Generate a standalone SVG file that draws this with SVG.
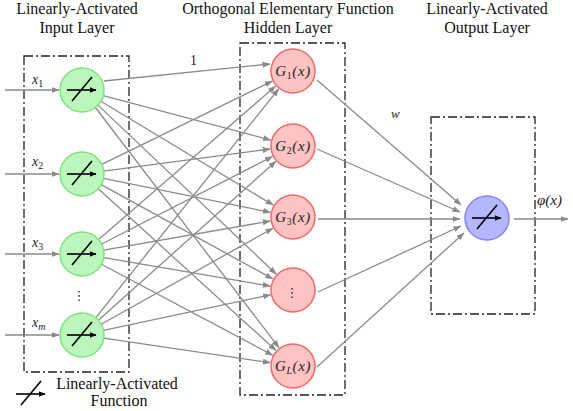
<svg xmlns="http://www.w3.org/2000/svg" xmlns:xlink="http://www.w3.org/1999/xlink" width="573" height="411" viewBox="0 0 573 411">
<style>
.t{font-family:"Liberation Serif","Times New Roman",serif;font-size:16px;fill:#111;text-anchor:middle}
.m{font-family:"Liberation Serif","Times New Roman",serif;font-style:italic;font-size:14px;fill:#222}
.g{font-size:15px;letter-spacing:0.6px}
.s{font-size:10px;font-style:normal}
.si{font-size:10px;font-style:italic}
.box{fill:none;stroke:#222;stroke-width:1.3;stroke-dasharray:9,3,2,3}
.c{stroke:#8a8a8a;stroke-width:1.3;fill:none;marker-end:url(#ah)}
.in{fill:#bdf6bd;stroke:#7fe37f;stroke-width:1.5}
.hd{fill:#ffc3c3;stroke:#f06a6a;stroke-width:1.5}
.out{fill:#b6b6ff;stroke:#8585ee;stroke-width:1.5}
.act{stroke:#000;stroke-width:1.6;fill:none}
.dots{font-family:"DejaVu Sans",sans-serif;font-size:13px;fill:#222;text-anchor:middle}
</style>
<defs>
<marker id="ah" markerWidth="8" markerHeight="6" refX="7.5" refY="3" orient="auto" markerUnits="userSpaceOnUse">
<path d="M0,0 L8,3 L0,6 Z" fill="#8a8a8a"/>
</marker>
<marker id="bh" markerWidth="7" markerHeight="6" refX="6.5" refY="3" orient="auto" markerUnits="userSpaceOnUse">
<path d="M0,0 L7,3 L0,6 Z" fill="#000"/>
</marker>
<g id="act">
<line class="act" x1="-15" y1="0" x2="14" y2="0" marker-end="url(#bh)"/>
<line class="act" x1="-10" y1="11" x2="10" y2="-13"/>
</g>
</defs>

<g id="titles">
<text class="t" x="77" y="14">Linearly-Activated</text>
<text class="t" x="77" y="33">Input Layer</text>
<text class="t" x="288" y="14">Orthogonal Elementary Function</text>
<text class="t" x="288" y="33">Hidden Layer</text>
<text class="t" x="487" y="14">Linearly-Activated</text>
<text class="t" x="487" y="33">Output Layer</text>
</g>

<g id="boxes">
<rect class="box" x="24" y="56" width="105" height="316"/>
<rect class="box" x="240" y="43" width="105" height="352"/>
<rect class="box" x="431" y="117" width="104" height="197"/>
</g>

<g id="connectors">
<line class="c" x1="5" y1="90" x2="59" y2="90"/>
<line class="c" x1="5" y1="174" x2="59" y2="174"/>
<line class="c" x1="5" y1="254" x2="59" y2="254"/>
<line class="c" x1="5" y1="335" x2="59" y2="335"/>

<line class="c" x1="104" y1="81" x2="270" y2="64"/>
<line class="c" x1="103.3" y1="95.6" x2="270.8" y2="140.1"/>
<line class="c" x1="100.8" y1="101.3" x2="273.3" y2="205.1"/>
<line class="c" x1="98" y1="105.1" x2="276.3" y2="274.2"/>
<line class="c" x1="95.4" y1="107.5" x2="279" y2="347.7"/>

<line class="c" x1="101.8" y1="164.3" x2="272.3" y2="81.1"/>
<line class="c" x1="103.8" y1="171.1" x2="270.2" y2="149"/>
<line class="c" x1="103.6" y1="178.4" x2="270.5" y2="212.4"/>
<line class="c" x1="101.3" y1="184.6" x2="272.8" y2="278.9"/>
<line class="c" x1="98.3" y1="188.8" x2="276" y2="350.5"/>

<line class="c" x1="98.6" y1="239.6" x2="275.6" y2="86.1"/>
<line class="c" x1="101.6" y1="244" x2="272.5" y2="156.5"/>
<line class="c" x1="103.7" y1="250.2" x2="270.3" y2="221"/>
<line class="c" x1="103.7" y1="257.7" x2="270.3" y2="286.1"/>
<line class="c" x1="101.4" y1="264.3" x2="272.7" y2="355.2"/>

<line class="c" x1="95.7" y1="317.8" x2="278.7" y2="88.9"/>
<line class="c" x1="98.4" y1="320.3" x2="275.9" y2="161.3"/>
<line class="c" x1="101.2" y1="324.3" x2="273" y2="228.2"/>
<line class="c" x1="103.5" y1="330.4" x2="270.6" y2="294.8"/>
<line class="c" x1="103.8" y1="338.2" x2="270.4" y2="362.7"/>

<line class="c" x1="317" y1="80" x2="461" y2="205"/>
<line class="c" x1="317" y1="149" x2="460" y2="212"/>
<line class="c" x1="318" y1="219" x2="460" y2="219"/>
<line class="c" x1="318" y1="292" x2="461" y2="226"/>
<line class="c" x1="317" y1="367" x2="464" y2="233"/>

<line class="c" x1="514" y1="219" x2="568" y2="219"/>
</g>

<g id="labels">
<text class="m" x="32" y="84">x<tspan class="s" dy="3">1</tspan></text>
<text class="m" x="32" y="166">x<tspan class="s" dy="3">2</tspan></text>
<text class="m" x="32" y="247">x<tspan class="s" dy="3">3</tspan></text>
<text class="m" x="32" y="327">x<tspan class="si" dy="3">m</tspan></text>
<text class="dots" x="79" y="300">⋮</text>
<text x="190" y="65" style="font-family:'Liberation Serif',serif;font-size:14px;fill:#222">1</text>
<text class="m" x="391" y="118" style="font-size:13px">w</text>
<text class="m" x="537" y="205" style="font-size:15px">φ(x)</text>
</g>

<g id="input1"><circle class="in" cx="82" cy="90" r="22"/><use xlink:href="#act" x="82" y="90"/></g>
<g id="input2"><circle class="in" cx="82" cy="174" r="22"/><use xlink:href="#act" x="82" y="174"/></g>
<g id="input3"><circle class="in" cx="82" cy="254" r="22"/><use xlink:href="#act" x="82" y="254"/></g>
<g id="inputm"><circle class="in" cx="82" cy="335" r="22"/><use xlink:href="#act" x="82" y="335"/></g>

<g id="hidden1"><circle class="hd" cx="293" cy="71" r="22"/><text class="m g" x="293" y="76" text-anchor="middle">G<tspan class="s" dy="3">1</tspan><tspan dy="-3">(x)</tspan></text></g>
<g id="hidden2"><circle class="hd" cx="293" cy="146" r="22"/><text class="m g" x="293" y="151" text-anchor="middle">G<tspan class="s" dy="3">2</tspan><tspan dy="-3">(x)</tspan></text></g>
<g id="hidden3"><circle class="hd" cx="293" cy="217" r="22"/><text class="m g" x="293" y="222" text-anchor="middle">G<tspan class="s" dy="3">3</tspan><tspan dy="-3">(x)</tspan></text></g>
<g id="hiddendots"><circle class="hd" cx="293" cy="290" r="22"/><text class="dots" x="292" y="297">⋮</text></g>
<g id="hiddenL"><circle class="hd" cx="293" cy="366" r="22"/><text class="m g" x="293" y="371" text-anchor="middle">G<tspan class="si" dy="3">L</tspan><tspan dy="-3">(x)</tspan></text></g>

<g id="output"><circle class="out" cx="487" cy="218" r="22"/><use xlink:href="#act" x="487" y="218"/></g>

<g id="legend">
<use xlink:href="#act" x="31" y="394"/>
<text class="t" x="117" y="389">Linearly-Activated</text>
<text class="t" x="119" y="406">Function</text>
</g>
</svg>
